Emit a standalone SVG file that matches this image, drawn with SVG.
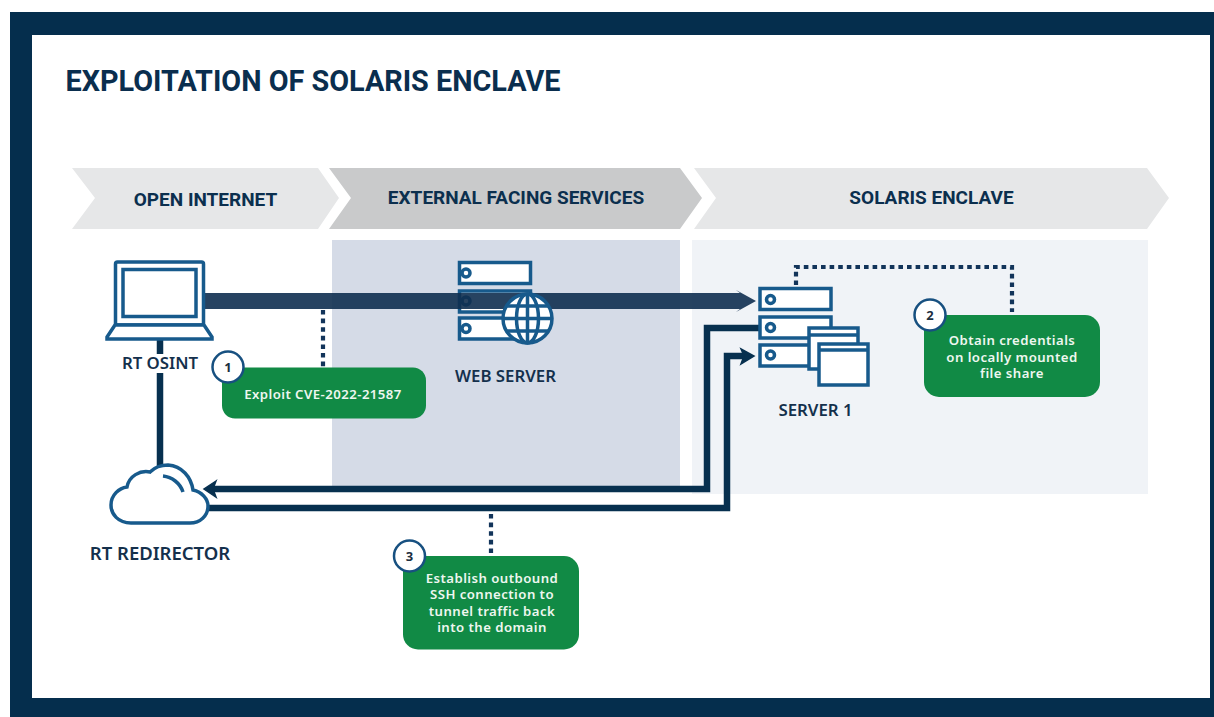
<svg xmlns="http://www.w3.org/2000/svg" width="1214" height="717" viewBox="0 0 1214 717">
<style>
.ico{fill:none;stroke:#175a8c;stroke-width:3.5}
.icf{fill:#fff;stroke:#175a8c;stroke-width:3.5}
.hd{font-family:Roboto,"Liberation Sans",sans-serif;font-weight:700;font-size:19px;fill:#0b2f4e;text-anchor:middle}
.lb{font-family:"Noto Sans","Liberation Sans",sans-serif;font-weight:600;font-size:16.8px;fill:#14304c;text-anchor:middle}
.gr{fill:#118a45}
.gt{font-family:"Noto Sans","Liberation Sans",sans-serif;font-weight:600;font-size:13.2px;letter-spacing:.45px;fill:#eef7f0;text-anchor:middle}
.num{fill:#fff;stroke:#175080;stroke-width:2.5}
.nt{font-family:"Noto Sans","Liberation Sans",sans-serif;font-weight:700;font-size:13px;fill:#1c2f40;text-anchor:middle}
.dot{fill:none;stroke:#12345a;stroke-width:4.2;stroke-dasharray:4.6 4}
.ln{fill:none;stroke:#07304f;stroke-width:6.5}
</style>
<rect width="1214" height="717" fill="#fff"/>
<path id="frame" fill="#052e4d" fill-rule="evenodd" d="M10 12H1214V717H10ZM32 35V698H1210V35Z"/>
<text x="65.500" y="91" font-family="Roboto,'Liberation Sans',sans-serif" font-weight="700" font-size="28.8px" fill="#0a2e4e">EXPLOITATION OF SOLARIS ENCLAVE</text>

<g id="band-open-internet"><path fill="#e6e7e8" d="M72 168H318L339 198L318 229H72L95 198Z"/><text class="hd" x="205.500" y="205.500">OPEN INTERNET</text></g>
<g id="band-external"><path fill="#c9cacb" d="M329 168H680L702 198L680 229H329L351 198Z"/><text class="hd" x="516" y="203.500">EXTERNAL FACING SERVICES</text></g>
<g id="band-enclave"><path fill="#e6e7e8" d="M694 168H1147L1169 198L1147 229H694L716 198Z"/><text class="hd" x="931.500" y="203.500">SOLARIS ENCLAVE</text></g>

<rect id="zone-external" x="332" y="240" width="348" height="247" fill="#d5dbe7"/>
<rect id="zone-enclave" x="692" y="240" width="456" height="254" fill="#f0f3f7"/>

<g id="web-server">
<rect class="icf" x="459.500" y="262.500" width="71" height="21"/>
<rect class="icf" x="459.500" y="291" width="71" height="21"/>
<rect class="icf" x="459.500" y="318" width="71" height="21"/>
<circle class="ico" cx="466" cy="273" r="4"/><circle class="ico" cx="466" cy="301" r="4"/><circle class="ico" cx="466" cy="328.500" r="4"/>
</g>

<g id="connectors">
<path d="M205 293H740L736 290L756 301L736 312L740 309H205Z" fill="#0f2f50" fill-opacity=".9"/>
<path class="ln" d="M160 340V354M160 373V466"/>
<path class="ln" d="M760 328H707V489H212"/>
<path d="M216 481L204 489L216 497L213 489Z" fill="#07304f" stroke="#07304f" stroke-width="1.500"/>
<path class="ln" d="M209 508H727V356H748"/>
<path d="M741 349L754 356L741 364L744 356Z" fill="#07304f" stroke="#07304f" stroke-width="1.500"/>
<path class="dot" d="M323 310V367"/>
<path class="dot" d="M796 285V267H1012V312"/>
<path class="dot" d="M491 514V554"/>
</g>

<g id="web-server-globe">
<circle class="icf" cx="527.500" cy="318.500" r="24.500"/>
<ellipse class="ico" cx="527.500" cy="318.500" rx="11" ry="24.500"/>
<path class="ico" d="M527.500 294V343M503 318.500H552M507 306H548M507 331H548"/>
</g>
<text id="web-server-label" class="lb" x="505.500" y="381.500">WEB SERVER</text>

<g id="rt-osint">
<rect class="ico" x="115.500" y="262" width="88" height="63" rx="2" stroke-width="4"/>
<rect class="ico" x="123" y="269.500" width="73" height="47"/>
<path class="icf" d="M115 325L107 337V339H212V337L204 325Z"/>
<text class="lb" x="160" y="368.500">RT OSINT</text>
</g>

<g id="rt-redirector">
<path class="icf" stroke-width="4.500" d="M131 523C118 523 111 514 111 505C111 495 119 488 127 487C129 476 140 470 150 472C155 467 162 465 168 465C182 466 191 477 193 490C202 492 208 499 208 506C208 516 200 523 190 523Z"/>
<path class="ico" d="M163 476C172 477 180 483 183 492"/>
<text class="lb" x="160" y="559.500" style="font-size:18.500px">RT REDIRECTOR</text>
</g>

<g id="server-1">
<rect class="icf" x="760" y="288.500" width="71" height="21"/>
<rect class="icf" x="760" y="317" width="71" height="21"/>
<rect class="icf" x="760" y="345" width="71" height="21"/>
<circle class="ico" cx="770.500" cy="299.500" r="4"/><circle class="ico" cx="770.500" cy="327.500" r="4"/><circle class="ico" cx="770.500" cy="355" r="4"/>
<rect class="icf" x="809" y="328" width="49" height="41"/><path class="ico" d="M809 335H858"/>
<rect class="icf" x="819" y="344" width="49" height="41"/><path class="ico" d="M819 350H868"/>
<text class="lb" x="815.500" y="415.500">SERVER 1</text>
</g>

<g id="step-1"><rect class="gr" x="222" y="367.500" width="204" height="51" rx="13"/><text class="gt" x="323" y="398.500">Exploit CVE-2022-21587</text><circle class="num" cx="228" cy="367" r="15.500"/><text class="nt" x="228" y="372">1</text></g>
<g id="step-2"><rect class="gr" x="924" y="315" width="176" height="82" rx="15"/><text class="gt" x="1012" y="345">Obtain credentials</text><text class="gt" x="1012" y="361.500">on locally mounted</text><text class="gt" x="1012" y="378">file share</text><circle class="num" cx="930" cy="315" r="15.500"/><text class="nt" x="930" y="320">2</text></g>
<g id="step-3"><rect class="gr" x="403" y="556" width="176" height="93.500" rx="15"/><text class="gt" x="492" y="582.500">Establish outbound</text><text class="gt" x="492" y="599">SSH connection to</text><text class="gt" x="492" y="615.500">tunnel traffic back</text><text class="gt" x="492" y="632">into the domain</text><circle class="num" cx="409.500" cy="556" r="15.500"/><text class="nt" x="409.500" y="561">3</text></g>
</svg>
